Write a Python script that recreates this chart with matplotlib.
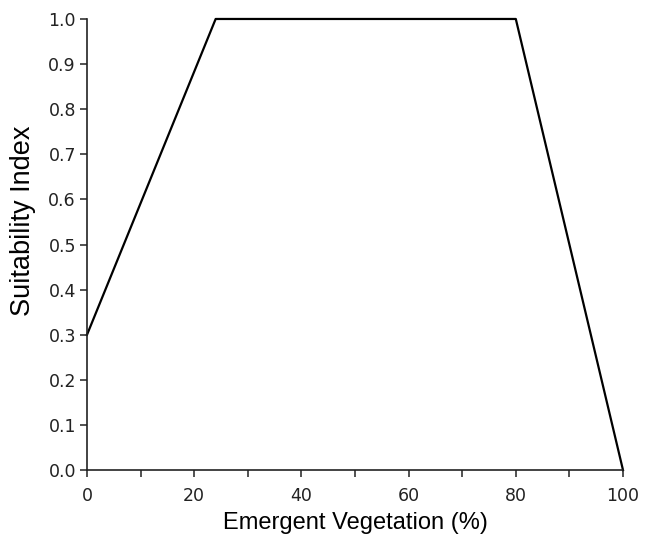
import matplotlib
matplotlib.use("Agg")
import matplotlib.pyplot as plt

# suitability curve for emergent vegetation
veg_pct = [0, 24, 80, 100]
suitability = [0.3, 1.0, 1.0, 0.0]

x_major = [0, 20, 40, 60, 80, 100]
x_minor = [10, 30, 50, 70, 90]
y_ticks = [0.0, 0.1, 0.2, 0.3, 0.4, 0.5, 0.6, 0.7, 0.8, 0.9, 1.0]

fig = plt.figure(figsize=(6.46, 5.36), dpi=100)
ax = fig.add_axes([0.1347, 0.123, 0.8297, 0.8416])

ax.plot(veg_pct, suitability, color="black", linewidth=1.6, clip_on=False)

ax.set_xlim(0, 100)
ax.set_ylim(0, 1.0)
ax.set_xticks(x_major)
ax.set_xticks(x_minor, minor=True)
ax.set_yticks(y_ticks)
ax.set_yticklabels([f"{v:.1f}" for v in y_ticks])

for side in ["top", "right"]:
    ax.spines[side].set_visible(False)
for side in ["left", "bottom"]:
    ax.spines[side].set_linewidth(1.2)
    ax.spines[side].set_color("#222222")

ax.tick_params(axis="both", which="both", direction="out", length=5,
               width=1.1, color="#222222", labelsize=12.5, labelcolor="#222222")
ax.tick_params(axis="x", which="major", pad=7)
ax.tick_params(axis="y", pad=3)

ax.set_xlabel("Emergent Vegetation (%)", fontsize=17, family="Liberation Sans",
              labelpad=5)
ax.set_ylabel("Suitability Index", fontsize=19.5, family="Liberation Sans")
# label sits a bit above the axis centre in the original
ax.yaxis.set_label_coords(-0.095, 0.553)

fig.savefig("out.png", dpi=100)
